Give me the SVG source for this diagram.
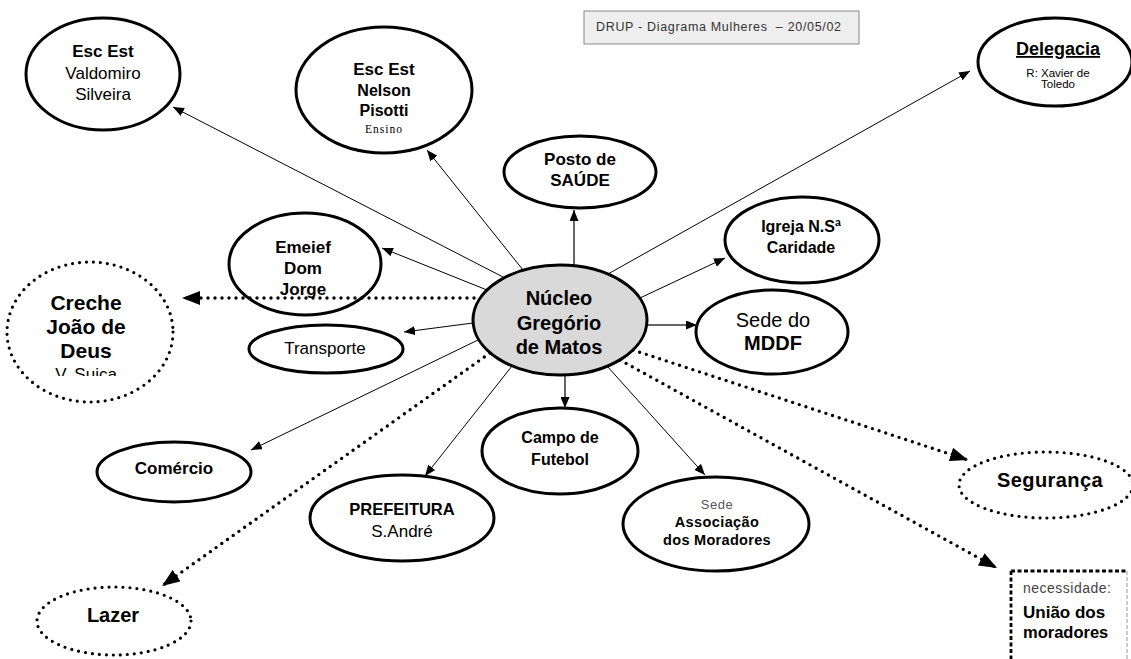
<svg xmlns="http://www.w3.org/2000/svg" width="1131" height="659" viewBox="0 0 1131 659">
<style>
text{font-family:"Liberation Sans",Arial,sans-serif;text-anchor:middle;fill:#000}
.b{font-weight:bold}
.node{fill:#fff;stroke:#000;stroke-width:3}
.dnode{fill:none;stroke:#000;stroke-width:3.2;stroke-dasharray:0 7;stroke-linecap:round}
.thin{stroke:#000;stroke-width:1;fill:none}
.mid{stroke:#333;stroke-width:1.5;fill:none}
.dot{stroke:#000;stroke-width:3.4;stroke-dasharray:0 7;stroke-linecap:round;fill:none}
</style>
<defs>
<marker id="sa" markerUnits="userSpaceOnUse" markerWidth="11" markerHeight="9" refX="11" refY="4.5" orient="auto"><path d="M0,0 L11,4.5 L0,9 z" fill="#000"/></marker>
<marker id="la" markerUnits="userSpaceOnUse" markerWidth="18" markerHeight="14" refX="18" refY="7" orient="auto"><path d="M0,0 L18,7 L0,14 z" fill="#000"/></marker>
<clipPath id="crClip"><rect x="0" y="250" width="200" height="126"/></clipPath>
</defs>
<rect width="1131" height="659" fill="#fff"/>

<g id="title">
<rect x="584" y="11" width="275" height="33" fill="#eeeeee" stroke="#888" stroke-width="1"/>
<text x="596" y="31" xml:space="preserve" style="text-anchor:start;font-size:12.5px;fill:#333;white-space:pre" textLength="245" lengthAdjust="spacing">DRUP - Diagrama Mulheres  – 20/05/02</text>
</g>

<g id="valdomiro">
<ellipse class="node" cx="103" cy="74" rx="77" ry="56"/>
<text class="b" x="103" y="57" font-size="17">Esc Est</text>
<text x="103" y="79" font-size="17">Valdomiro</text>
<text x="103" y="100" font-size="17">Silveira</text>
</g>

<g id="nelson">
<ellipse class="node" cx="384" cy="90" rx="88" ry="63"/>
<text class="b" x="384" y="75" font-size="17">Esc Est</text>
<text class="b" x="384" y="96" font-size="16">Nelson</text>
<text class="b" x="384" y="116" font-size="16">Pisotti</text>
<text x="384" y="133" style="font-family:'Liberation Serif','Times New Roman',serif;font-size:11.5px;letter-spacing:1px">Ensino</text>
</g>

<g id="posto">
<ellipse class="node" cx="580" cy="172" rx="76" ry="36"/>
<text class="b" x="580" y="165" font-size="17">Posto de</text>
<text class="b" x="580" y="186" font-size="17">SAÚDE</text>
</g>

<g id="delegacia">
<ellipse class="node" cx="1055" cy="62" rx="77" ry="44"/>
<text class="b" x="1058" y="55" font-size="18" text-decoration="underline">Delegacia</text>
<text x="1058" y="77" font-size="11.5">R: Xavier de</text>
<text x="1058" y="88" font-size="11.5">Toledo</text>
</g>

<g id="igreja">
<ellipse class="node" cx="802" cy="240" rx="77" ry="43"/>
<text class="b" x="801" y="232" font-size="16">Igreja N.Sª</text>
<text class="b" x="801" y="253" font-size="16">Caridade</text>
</g>

<g id="mddf">
<ellipse class="node" cx="772" cy="332" rx="76" ry="42"/>
<text x="773" y="327" font-size="20">Sede do</text>
<text class="b" x="773" y="350" font-size="20">MDDF</text>
</g>

<g id="emeief">
<ellipse class="node" cx="305" cy="264" rx="76" ry="51"/>
<text class="b" x="303" y="253" font-size="17">Emeief</text>
<text class="b" x="303" y="274" font-size="17">Dom</text>
<text class="b" x="303" y="295" font-size="17">Jorge</text>
</g>

<g id="creche">
<ellipse class="dnode" cx="90" cy="332" rx="83" ry="70"/>
<text class="b" x="86" y="310" font-size="21">Creche</text>
<text class="b" x="86" y="334" font-size="21">João de</text>
<text class="b" x="86" y="358" font-size="21">Deus</text>
<text x="86" y="380" font-size="17" clip-path="url(#crClip)">V. Suica</text>
</g>

<g id="transporte">
<ellipse class="node" cx="326" cy="349" rx="77" ry="24"/>
<text x="325" y="354" font-size="17">Transporte</text>
</g>

<g id="comercio">
<ellipse class="node" cx="174" cy="472" rx="77" ry="30"/>
<text class="b" x="174" y="474" font-size="17">Comércio</text>
</g>

<g id="prefeitura">
<ellipse class="node" cx="402" cy="518" rx="92" ry="43"/>
<text class="b" x="402" y="515" font-size="16.5">PREFEITURA</text>
<text x="402" y="537" font-size="17">S.André</text>
</g>

<g id="campo">
<ellipse class="node" cx="560" cy="451" rx="78" ry="43"/>
<text class="b" x="560" y="443" font-size="16">Campo de</text>
<text class="b" x="560" y="465" font-size="16">Futebol</text>
</g>

<g id="associacao">
<ellipse class="node" cx="716" cy="524" rx="93" ry="47"/>
<text x="717" y="509" font-size="13" style="fill:#555;letter-spacing:0.5px">Sede</text>
<text class="b" x="717" y="527" font-size="14.5" style="letter-spacing:0.4px">Associação</text>
<text class="b" x="717" y="545" font-size="14.5" style="letter-spacing:0.3px">dos Moradores</text>
</g>

<g id="lazer">
<ellipse class="dnode" cx="114" cy="621" rx="77" ry="34"/>
<text class="b" x="113" y="622" font-size="20">Lazer</text>
</g>

<g id="seguranca">
<ellipse class="dnode" cx="1046" cy="485" rx="87" ry="33"/>
<text class="b" x="1050" y="487" font-size="20" style="letter-spacing:0.4px">Segurança</text>
</g>

<g id="uniao">
<path d="M1011,571 H1127 M1011,571 V659" stroke="#000" stroke-width="2.8" stroke-dasharray="4 2.5" fill="none"/>
<path d="M1127,571 V659" stroke="#999" stroke-width="1" stroke-dasharray="4 2" fill="none"/>
<text x="1023" y="593" font-size="14" style="text-anchor:start;fill:#444;letter-spacing:0.5px">necessidade:</text>
<text class="b" x="1023" y="618" font-size="17" style="text-anchor:start">União dos</text>
<text class="b" x="1023" y="638" font-size="16.5" style="text-anchor:start">moradores</text>
</g>

<g id="connectors">
<line class="thin" x1="503" y1="277" x2="173" y2="107" marker-end="url(#sa)"/>
<line class="thin" x1="523" y1="270" x2="427" y2="150" marker-end="url(#sa)"/>
<line class="mid" x1="574" y1="265" x2="574" y2="210" marker-end="url(#sa)"/>
<line class="thin" x1="608" y1="274" x2="970" y2="71" marker-end="url(#sa)"/>
<line class="thin" x1="640" y1="298" x2="725" y2="258" marker-end="url(#sa)"/>
<line class="mid" x1="647" y1="325" x2="697" y2="325" marker-end="url(#sa)"/>
<line class="thin" x1="487" y1="290" x2="382" y2="248" marker-end="url(#sa)"/>
<line class="dot" x1="474" y1="298" x2="182" y2="298" marker-end="url(#la)"/>
<line class="thin" x1="473" y1="323" x2="404" y2="332" marker-end="url(#sa)"/>
<line class="thin" x1="478" y1="340" x2="251" y2="450" marker-end="url(#sa)"/>
<line class="dot" x1="490" y1="353" x2="162" y2="586" marker-end="url(#la)"/>
<line class="thin" x1="512" y1="366" x2="425" y2="476" marker-end="url(#sa)"/>
<line class="mid" x1="565" y1="375" x2="565" y2="408" marker-end="url(#sa)"/>
<line class="thin" x1="607" y1="366" x2="705" y2="475" marker-end="url(#sa)"/>
<line class="dot" x1="633" y1="350" x2="968" y2="460" marker-end="url(#la)"/>
<line class="dot" x1="620" y1="360" x2="997" y2="568" marker-end="url(#la)"/>
</g>

<g id="nucleo">
<ellipse cx="560" cy="320" rx="87" ry="55" fill="#d9d9d9" stroke="#000" stroke-width="3"/>
<text class="b" x="559" y="305" font-size="20">Núcleo</text>
<text class="b" x="559" y="330" font-size="20">Gregório</text>
<text class="b" x="559" y="354" font-size="20">de Matos</text>
</g>
</svg>
